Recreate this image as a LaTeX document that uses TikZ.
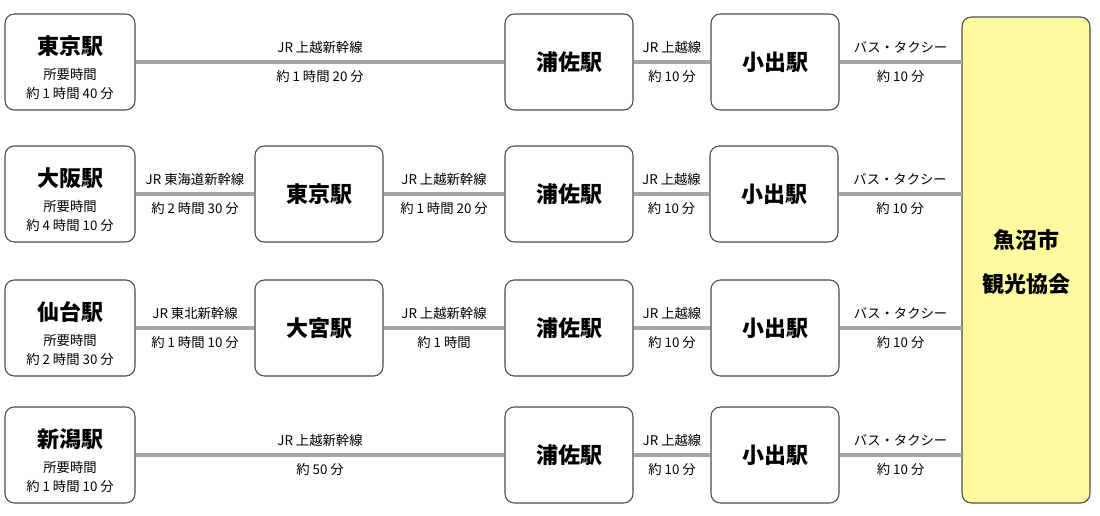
\documentclass[tikz,border=0pt]{standalone}
\usepackage{fontspec}
\usetikzlibrary{calc}
\setmainfont{Noto Sans CJK JP}
\begin{document}
\begin{tikzpicture}[x=0.75pt,y=-0.75pt,
  box/.style={draw=black!70,line width=0.8pt,rounded corners=7pt,fill=white,inner sep=0pt,minimum width=96pt,minimum height=72pt},
  mbox/.style={box,font=\fontsize{16.5}{20}\selectfont\bfseries},
  ttl/.style={font=\fontsize{16.5}{20}\selectfont\bfseries},
  sub/.style={font=\fontsize{10}{14}\selectfont,align=center},
  lnk/.style={draw=black!35,line width=3pt},
  lab/.style={font=\fontsize{10}{12}\selectfont},
  pt/.style={inner sep=0pt,minimum size=0pt}]
\useasboundingbox (0,0) rectangle (1100,515);
\node[box,fill={rgb,255:red,255;green,250;blue,160},minimum width=96pt,minimum height=364.5pt] (g) at (1026,260) {};
\node[ttl,align=center,font=\fontsize{16.5}{33}\selectfont\bfseries] (gt) at (1026,262) {魚沼市\\観光協会};
% row 1
\node[box,minimum width=97.5pt] (a1) at (70,62) {};
\node[ttl] (a1t) at (70,46) {東京駅};
\node[sub] (a1s) at (70,84) {所要時間\\約 1 時間 40 分};
\node[mbox] (u1) at (569,62) {浦佐駅};
\node[mbox] (k1) at (775,62) {小出駅};
% row 2
\node[box,minimum width=97.5pt] (a2) at (70,194) {};
\node[ttl] (a2t) at (70,178) {大阪駅};
\node[sub] (a2s) at (70,216) {所要時間\\約 4 時間 10 分};
\node[mbox] (t2) at (319,194) {東京駅};
\node[mbox] (u2) at (569,194) {浦佐駅};
\node[mbox] (k2) at (774,194) {小出駅};
% row 3
\node[box,minimum width=97.5pt] (a3) at (70,328) {};
\node[ttl] (a3t) at (70,312) {仙台駅};
\node[sub] (a3s) at (70,350) {所要時間\\約 2 時間 30 分};
\node[mbox] (t3) at (319,328) {大宮駅};
\node[mbox] (u3) at (569,328) {浦佐駅};
\node[mbox] (k3) at (775,328) {小出駅};
% row 4
\node[box,minimum width=97.5pt] (a4) at (70,455) {};
\node[ttl] (a4t) at (70,439) {新潟駅};
\node[sub] (a4s) at (70,477) {所要時間\\約 1 時間 10 分};
\node[mbox] (u4) at (569,455) {浦佐駅};
\node[mbox] (k4) at (775,455) {小出駅};
\node[pt] (g1) at (962,62) {};\node[pt] (g2) at (962,194) {};
\node[pt] (g3) at (962,328) {};\node[pt] (g4) at (962,455) {};
% links
\foreach \p/\q/\top/\bot in {
  a1/u1/JR 上越新幹線/約 1 時間 20 分, u1/k1/JR 上越線/約 10 分, k1/g1/バス・タクシー/約 10 分,
  a2/t2/JR 東海道新幹線/約 2 時間 30 分, t2/u2/JR 上越新幹線/約 1 時間 20 分, u2/k2/JR 上越線/約 10 分, k2/g2/バス・タクシー/約 10 分,
  a3/t3/JR 東北新幹線/約 1 時間 10 分, t3/u3/JR 上越新幹線/約 1 時間, u3/k3/JR 上越線/約 10 分, k3/g3/バス・タクシー/約 10 分,
  a4/u4/JR 上越新幹線/約 50 分, u4/k4/JR 上越線/約 10 分, k4/g4/バス・タクシー/約 10 分}{
  \draw[lnk] (\p.east) -- (\q.west);
  \node[lab] at ($(\p.east)!0.5!(\q.west)+(0,-15)$) {\top};
  \node[lab] at ($(\p.east)!0.5!(\q.west)+(0,14)$) {\bot};
}
\end{tikzpicture}
\end{document}
